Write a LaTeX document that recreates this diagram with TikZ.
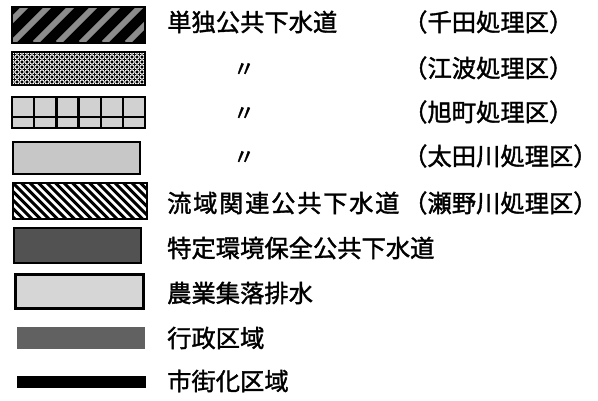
\documentclass[tikz,border=0pt]{standalone}
\usepackage{fontspec}
\setmainfont{Noto Sans CJK JP}[FakeBold=1.5]
\usepackage{tikz}
\usetikzlibrary{calc}

\tikzset{
  swatch/.style={draw=black, line width=2pt, inner sep=0pt},
  lbl/.style={font=\fontsize{24.3}{29}\selectfont, anchor=west, inner sep=0pt},
  ditto/.style={font=\fontsize{22}{26}\selectfont, inner sep=0pt}
}

\begin{document}
\begin{tikzpicture}[x=1pt,y=-1pt]
			\useasboundingbox (0,0) rectangle (598,400);

			%swatches
			\node[swatch, fill=black, minimum width=133pt, minimum height=36pt,
				path picture={\foreach \i in {-2,...,6}
					\draw[black!45, line width=6pt] ($(path picture bounding box.south west)+(\i*23,0)$) -- ++(50,-50);}] (S1) at (78.5,25) {};
			\node[swatch, fill=black, minimum width=133pt, minimum height=33pt,
				path picture={\foreach \x in {0,5,...,135} \foreach \y in {0,5,...,35}
					\draw[white, line width=0.9pt] ($(path picture bounding box.north west)+(\x,\y)$) circle (2.1pt);}] (S2) at (78.5,68.5) {};
			\node[swatch, fill=black!18, minimum width=133pt, minimum height=31pt,
				path picture={\foreach \i in {1,...,5}
					\draw[black, line width=2.5pt] ($(path picture bounding box.north west)+(\i*22.2,0)$) -- ++(0,31);
					\draw[black, line width=2.5pt] ($(path picture bounding box.north west)+(0,20)$) -- ++(133,0);}] (S3) at (78.5,112.5) {};
			\node[swatch, fill=black!22, minimum width=127pt, minimum height=32pt] (S4) at (76.5,158) {};
			\node[swatch, fill=white, minimum width=134pt, minimum height=36pt,
				path picture={\foreach \i in {-5,...,16}
					\draw[black, line width=3pt] ($(path picture bounding box.north west)+(\i*8.5,0)$) -- ++(45,45);}] (S5) at (80,201) {};
			\node[swatch, fill=black!68, minimum width=127pt, minimum height=35pt] (S6) at (77.5,245.5) {};
			\node[swatch, line width=3pt, fill=black!16, minimum width=128pt, minimum height=34pt] (S7) at (79,291) {};
			\node[inner sep=0pt, fill=black!62, minimum width=128pt, minimum height=22pt] (S8) at (81,338) {};
			\node[inner sep=0pt, fill=black, minimum width=129pt, minimum height=12pt] (S9) at (81.5,382) {};

			%labels
			\node[lbl] (t1) at (167,22) {単独公共下水道};
			\node[lbl] (p1) at (403,22) {（千田処理区）};
			\node[ditto] (d2) at (244,70) {〃};
			\node[lbl] (p2) at (403,68) {（江波処理区）};
			\node[ditto] (d3) at (244,114) {〃};
			\node[lbl] (p3) at (403,112) {（旭町処理区）};
			\node[ditto] (d4) at (244,158) {〃};
			\node[lbl] (p4) at (403,156) {（太田川処理区）};
			\node[lbl, font=\fontsize{24.3}{29}\selectfont\addfontfeature{LetterSpace=7}] (t5) at (167,203) {流域関連公共下水道};
			\node[lbl] (p5) at (403,203) {（瀬野川処理区）};
			\node[lbl] (t6) at (167,248) {特定環境保全公共下水道};
			\node[lbl] (t7) at (167,293) {農業集落排水};
			\node[lbl] (t8) at (167,338) {行政区域};
			\node[lbl] (t9) at (167,381) {市街化区域};

		\end{tikzpicture}
\end{document}
